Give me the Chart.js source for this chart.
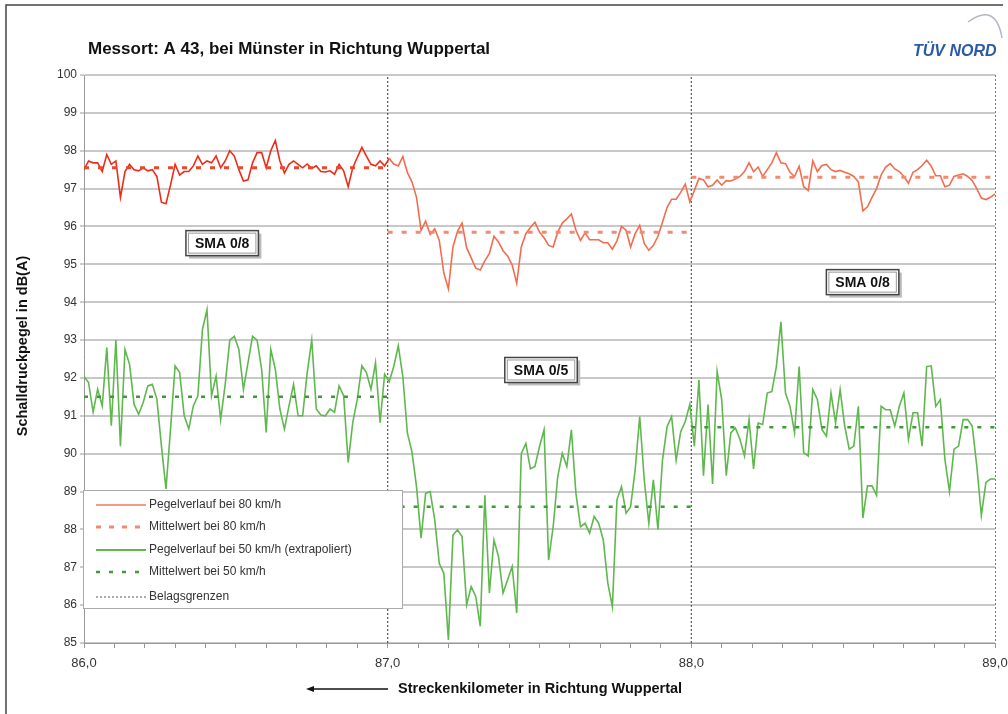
<!DOCTYPE html>
<html>
<head>
<meta charset="utf-8">
<script src="https://cdn.jsdelivr.net/npm/chart.js@4.4.1/dist/chart.umd.min.js"></script>
<style>
  html, body { margin: 0; padding: 0; background: #fff; }
  #wrap { position: relative; width: 1008px; height: 714px; }
</style>
</head>
<body>
<div id="wrap"><canvas id="levelChart" width="1008" height="714"></canvas></div>
<script>
// sampling of the measured level curves (km)
const kmStart = 86.0;
const kmStep = 0.015;

// Pegelverlauf bei 80 km/h, dB(A)
const level80 = [
  97.5, 97.73, 97.68, 97.68, 97.45, 97.9, 97.64, 97.73, 96.77, 97.45,
  97.64, 97.5, 97.47, 97.55, 97.47, 97.5, 97.32, 96.64, 96.6, 97.1,
  97.64, 97.36, 97.45, 97.45, 97.6, 97.86, 97.64, 97.73, 97.68, 97.86,
  97.55, 97.73, 98.0, 97.86, 97.5, 97.2, 97.23, 97.68, 97.95, 97.95,
  97.55, 98.0, 98.27, 97.73, 97.41, 97.64, 97.73, 97.64, 97.55, 97.65,
  97.53, 97.6, 97.45, 97.44, 97.47, 97.38, 97.64, 97.47, 97.05, 97.55,
  97.82, 98.09, 97.86, 97.64, 97.6, 97.73, 97.6, 97.8, 97.65, 97.6,
  97.85, 97.42, 97.18, 96.77, 95.9, 96.14, 95.79, 95.94, 95.63, 94.77,
  94.35, 95.46, 95.87, 96.09, 95.44, 95.17, 94.9, 94.85, 95.09, 95.29,
  95.74, 95.59, 95.36, 95.22, 94.98, 94.5, 95.46, 95.81, 95.97, 96.11,
  95.85, 95.7, 95.5, 95.46, 95.85, 96.09, 96.2, 96.33, 95.9, 95.63,
  95.83, 95.65, 95.65, 95.65, 95.57, 95.57, 95.4, 95.62, 96.0, 95.9,
  95.46, 95.81, 96.03, 95.55, 95.37, 95.5, 95.74, 96.11, 96.5, 96.72,
  96.72, 96.9, 97.12, 96.65, 96.95, 97.27, 97.23, 97.05, 97.09, 97.23,
  97.09, 97.21, 97.2, 97.25, 97.32, 97.45, 97.68, 97.45, 97.57, 97.32,
  97.5, 97.68, 97.95, 97.68, 97.66, 97.43, 97.32, 97.59, 97.05, 96.95,
  97.73, 97.45, 97.61, 97.64, 97.5, 97.45, 97.48, 97.43, 97.39, 97.32,
  97.18, 96.41, 96.52, 96.77, 97.0, 97.36, 97.57, 97.66, 97.52, 97.45,
  97.32, 97.14, 97.43, 97.5, 97.61, 97.75, 97.59, 97.34, 97.34, 97.05,
  97.09, 97.32, 97.36, 97.39, 97.32, 97.21, 97.0, 96.75, 96.71, 96.77,
  96.86
];

// Pegelverlauf bei 50 km/h (extrapoliert), dB(A)
const level50 = [
  92.04, 91.88, 91.1, 91.7, 91.26, 92.8, 90.74, 93.0, 90.2, 92.75,
  92.36, 91.3, 91.04, 91.35, 91.79, 91.83, 91.44, 90.2, 89.07, 90.65,
  92.32, 92.14, 91.0, 90.65, 91.26, 91.53, 93.28, 93.8, 91.53, 92.05,
  90.9, 91.83, 93.0, 93.1, 92.75, 91.7, 92.4, 93.1, 93.0, 92.23,
  90.56, 92.75, 92.23, 91.18, 90.65, 91.26, 91.83, 91.0, 91.0, 92.14,
  93.0, 91.18, 91.02, 91.0, 91.18, 91.09, 91.79, 91.53, 89.77, 90.82,
  91.44, 92.32, 92.14, 91.7, 92.4, 90.82, 92.1, 91.9, 92.3, 92.85,
  92.03, 90.54, 90.05, 89.13, 87.77, 88.95, 89.0, 88.25, 87.1, 86.84,
  85.08, 87.85, 87.99, 87.81, 86.01, 86.49, 86.23, 85.44, 88.9, 86.32,
  87.72, 87.28, 86.32, 86.67, 87.02, 85.79, 90.0, 90.27, 89.6, 89.66,
  90.19, 90.63, 87.19, 88.07, 89.39, 90.01, 89.66, 90.63, 88.95, 88.07,
  88.16, 87.9, 88.34, 88.16, 87.72, 86.58, 85.96, 88.78, 89.13, 88.43,
  88.6, 89.57, 90.98, 89.31, 88.16, 89.31, 87.99, 89.83, 90.71, 90.98,
  89.83, 90.58, 90.85, 91.3, 90.2, 91.95, 89.42, 91.3, 89.2, 92.17,
  91.43, 89.42, 90.55, 90.68, 90.38, 89.94, 90.9, 89.6, 90.81, 90.77,
  91.6, 91.64, 92.3, 93.48, 91.6, 91.25, 90.55, 92.3, 90.03, 89.94,
  91.69, 91.43, 90.64, 90.46, 91.6, 90.81, 91.69, 90.73, 90.12, 90.2,
  91.25, 88.3, 89.15, 89.15, 88.9, 91.25, 91.16, 91.16, 90.73, 91.25,
  91.6, 90.38, 91.08, 91.08, 90.2, 92.3, 92.32, 91.25, 91.43, 89.85,
  89.0, 90.12, 90.2, 90.9, 90.9, 90.73, 89.68, 88.37, 89.24, 89.33,
  89.33
];

// road surface sections and their mean levels
const sectionEdges = [86.0, 87.0, 88.0, 89.0];
const mean80 = [97.55, 95.85, 97.3];
const mean50 = [91.5, 88.6, 90.7];
const boundaries = [87.0, 88.0];
const surfaceLabels = ['SMA 0/8', 'SMA 0/5', 'SMA 0/8'];

const yMin = 85, yMax = 100;
const legendLabels = [
  'Pegelverlauf bei 80 km/h',
  'Mittelwert bei 80 km/h',
  'Pegelverlauf bei 50 km/h (extrapoliert)',
  'Mittelwert bei 50 km/h',
  'Belagsgrenzen'
];

const FONT = '"Liberation Sans", Arial, sans-serif';
const RED = '#ee2b1b';
const RED_LIGHT = '#f26d50';
const GREEN = '#5fb84e';
const GREEN_DARK = '#3f9a38';

const toPoints = vals => vals.map((v, i) => ({ x: +(kmStart + i * kmStep).toFixed(3), y: v }));

function meanPoints(means) {
  const pts = [];
  means.forEach((m, k) => {
    pts.push({ x: sectionEdges[k], y: m }, { x: sectionEdges[k + 1], y: m }, { x: sectionEdges[k + 1], y: null });
  });
  return pts;
}

const boundaryPoints = boundaries.flatMap(b => [{ x: b, y: yMin }, { x: b, y: yMax }, { x: b, y: null }]);

// frame, titles, legend box and surface labels
const decorations = {
  id: 'decorations',
  beforeDraw(chart) {
    const ctx = chart.ctx;
    ctx.save();
    ctx.fillStyle = '#fff';
    ctx.fillRect(0, 0, chart.width, chart.height);

    ctx.strokeStyle = '#444';
    ctx.lineWidth = 1.5;
    ctx.beginPath();
    ctx.moveTo(6, 714);
    ctx.lineTo(6, 5);
    ctx.lineTo(1003, 5);
    ctx.stroke();

    ctx.strokeStyle = '#b4b8c4';
    ctx.lineWidth = 1.5;
    ctx.beginPath();
    ctx.moveTo(968, 22);
    ctx.quadraticCurveTo(996, 2, 1002, 38);
    ctx.stroke();

    ctx.fillStyle = '#111';
    ctx.font = 'bold 17px ' + FONT;
    ctx.textBaseline = 'alphabetic';
    ctx.fillText('Messort: A 43, bei M\u00fcnster in Richtung Wuppertal', 88, 54);

    ctx.fillStyle = '#2b5aa8';
    ctx.font = 'italic bold 16px ' + FONT;
    ctx.fillText('T\u00dcV NORD', 913, 56);

    ctx.fillStyle = '#111';
    ctx.font = 'bold 14.5px ' + FONT;
    ctx.translate(23, 346);
    ctx.rotate(-Math.PI / 2);
    ctx.textAlign = 'center';
    ctx.textBaseline = 'middle';
    ctx.fillText('Schalldruckpegel in dB(A)', 0, 0);
    ctx.restore();

    ctx.save();
    ctx.fillStyle = '#111';
    ctx.font = 'bold 14.5px ' + FONT;
    ctx.textBaseline = 'middle';
    ctx.fillText('Streckenkilometer in Richtung Wuppertal', 398, 689);
    ctx.strokeStyle = '#111';
    ctx.lineWidth = 1.5;
    ctx.beginPath();
    ctx.moveTo(388, 689);
    ctx.lineTo(310, 689);
    ctx.stroke();
    ctx.beginPath();
    ctx.moveTo(306, 689);
    ctx.lineTo(314, 686);
    ctx.lineTo(314, 692);
    ctx.closePath();
    ctx.fill();
    ctx.restore();
  },
  afterDatasetsDraw(chart) {
    const ctx = chart.ctx;
    const area = chart.chartArea;
    const xs = chart.scales.x, ys = chart.scales.y;
    ctx.save();

    // right edge of the plot, dotted
    ctx.strokeStyle = '#777';
    ctx.lineWidth = 1;
    ctx.setLineDash([2, 2]);
    ctx.beginPath();
    ctx.moveTo(area.right + 0.5, area.top);
    ctx.lineTo(area.right + 0.5, area.bottom);
    ctx.stroke();
    ctx.setLineDash([]);

    // surface labels
    const labelAt = [[86.455, 95.56], [87.505, 92.21], [88.564, 94.53]];
    ctx.font = 'bold 14px ' + FONT;
    ctx.textAlign = 'center';
    ctx.textBaseline = 'middle';
    surfaceLabels.forEach((t, k) => {
      const cx = xs.getPixelForValue(labelAt[k][0]);
      const cy = ys.getPixelForValue(labelAt[k][1]);
      const w = ctx.measureText(t).width + 18, h = 25;
      ctx.fillStyle = '#bbb';
      ctx.fillRect(cx - w / 2 + 3, cy - h / 2 + 3, w, h);
      ctx.fillStyle = '#fff';
      ctx.fillRect(cx - w / 2, cy - h / 2, w, h);
      ctx.strokeStyle = '#444';
      ctx.lineWidth = 1.5;
      ctx.strokeRect(cx - w / 2, cy - h / 2, w, h);
      ctx.strokeStyle = '#999';
      ctx.lineWidth = 1;
      ctx.strokeRect(cx - w / 2 + 2.5, cy - h / 2 + 2.5, w - 5, h - 5);
      ctx.fillStyle = '#111';
      ctx.fillText(t, cx, cy + 1);
    });

    // legend
    const lx = area.left - 1, ly = 490, lw = 319, lh = 118;
    ctx.fillStyle = '#fff';
    ctx.fillRect(lx, ly, lw, lh);
    ctx.strokeStyle = '#aaa';
    ctx.lineWidth = 1;
    ctx.strokeRect(lx + 0.5, ly + 0.5, lw, lh);

    const styles = [
      { color: '#f29a88', width: 2, dash: [] },
      { color: '#f08a70', width: 3, dash: [5, 8] },
      { color: GREEN, width: 2, dash: [] },
      { color: GREEN_DARK, width: 2.5, dash: [4, 9] },
      { color: '#777', width: 1.2, dash: [2, 2] }
    ];
    const rows = [505, 527, 550, 572, 597];
    ctx.textAlign = 'left';
    ctx.font = '12px ' + FONT;
    legendLabels.forEach((t, k) => {
      const s = styles[k];
      ctx.strokeStyle = s.color;
      ctx.lineWidth = s.width;
      ctx.setLineDash(s.dash);
      ctx.beginPath();
      ctx.moveTo(96, rows[k]);
      ctx.lineTo(146, rows[k]);
      ctx.stroke();
      ctx.setLineDash([]);
      ctx.fillStyle = '#333';
      ctx.fillText(t, 149, rows[k]);
    });
    ctx.restore();
  }
};

new Chart(document.getElementById('levelChart'), {
  type: 'line',
  data: {
    datasets: [
      {
        label: legendLabels[4],
        data: boundaryPoints,
        borderColor: '#555',
        borderWidth: 1.2,
        borderDash: [2, 2],
        pointRadius: 0,
        spanGaps: false,
        order: 5
      },
      {
        label: legendLabels[0],
        data: toPoints(level80),
        borderColor: RED,
        borderWidth: 1.6,
        pointRadius: 0,
        segment: { borderColor: c => (c.p0.parsed.x < 87 ? RED : RED_LIGHT) },
        order: 2
      },
      {
        label: legendLabels[1],
        data: meanPoints(mean80),
        borderColor: '#e8482c',
        borderWidth: 3,
        borderDash: [5, 9],
        pointRadius: 0,
        spanGaps: false,
        segment: { borderColor: c => (c.p0.parsed.x < 87 ? '#e8482c' : '#f08a70') },
        order: 1
      },
      {
        label: legendLabels[2],
        data: toPoints(level50),
        borderColor: GREEN,
        borderWidth: 1.6,
        pointRadius: 0,
        order: 4
      },
      {
        label: legendLabels[3],
        data: meanPoints(mean50),
        borderColor: GREEN_DARK,
        borderWidth: 2.5,
        borderDash: [4, 9],
        pointRadius: 0,
        spanGaps: false,
        order: 3
      }
    ]
  },
  options: {
    responsive: false,
    animation: false,
    events: [],
    layout: { padding: { top: 75, right: 13, left: 0, bottom: 0 } },
    elements: { line: { tension: 0, fill: false } },
    plugins: {
      legend: { display: false },
      tooltip: { enabled: false }
    },
    scales: {
      x: {
        type: 'linear',
        min: 86,
        max: 89,
        afterFit: s => { s.height = 71; s.paddingLeft = 0; s.paddingRight = 0; },
        ticks: {
          stepSize: 0.1,
          autoSkip: false,
          maxRotation: 0,
          padding: 8,
          color: '#333',
          font: { family: FONT, size: 13 },
          callback: v => (Math.abs(v - Math.round(v)) < 1e-6 ? Number(v).toFixed(1).replace('.', ',') : '')
        },
        grid: { drawOnChartArea: false, tickLength: 5, tickColor: '#999' },
        border: { color: '#999', width: 1 }
      },
      y: {
        min: yMin,
        max: yMax,
        afterFit: s => { s.width = 84; },
        ticks: {
          stepSize: 1,
          padding: 3,
          color: '#333',
          font: { family: FONT, size: 12 }
        },
        grid: { color: '#c8c8c8', lineWidth: 2, tickLength: 4, tickColor: '#999', tickWidth: 1 },
        border: { color: '#999', width: 1 }
      }
    }
  },
  plugins: [decorations]
});
</script>
</body>
</html>
